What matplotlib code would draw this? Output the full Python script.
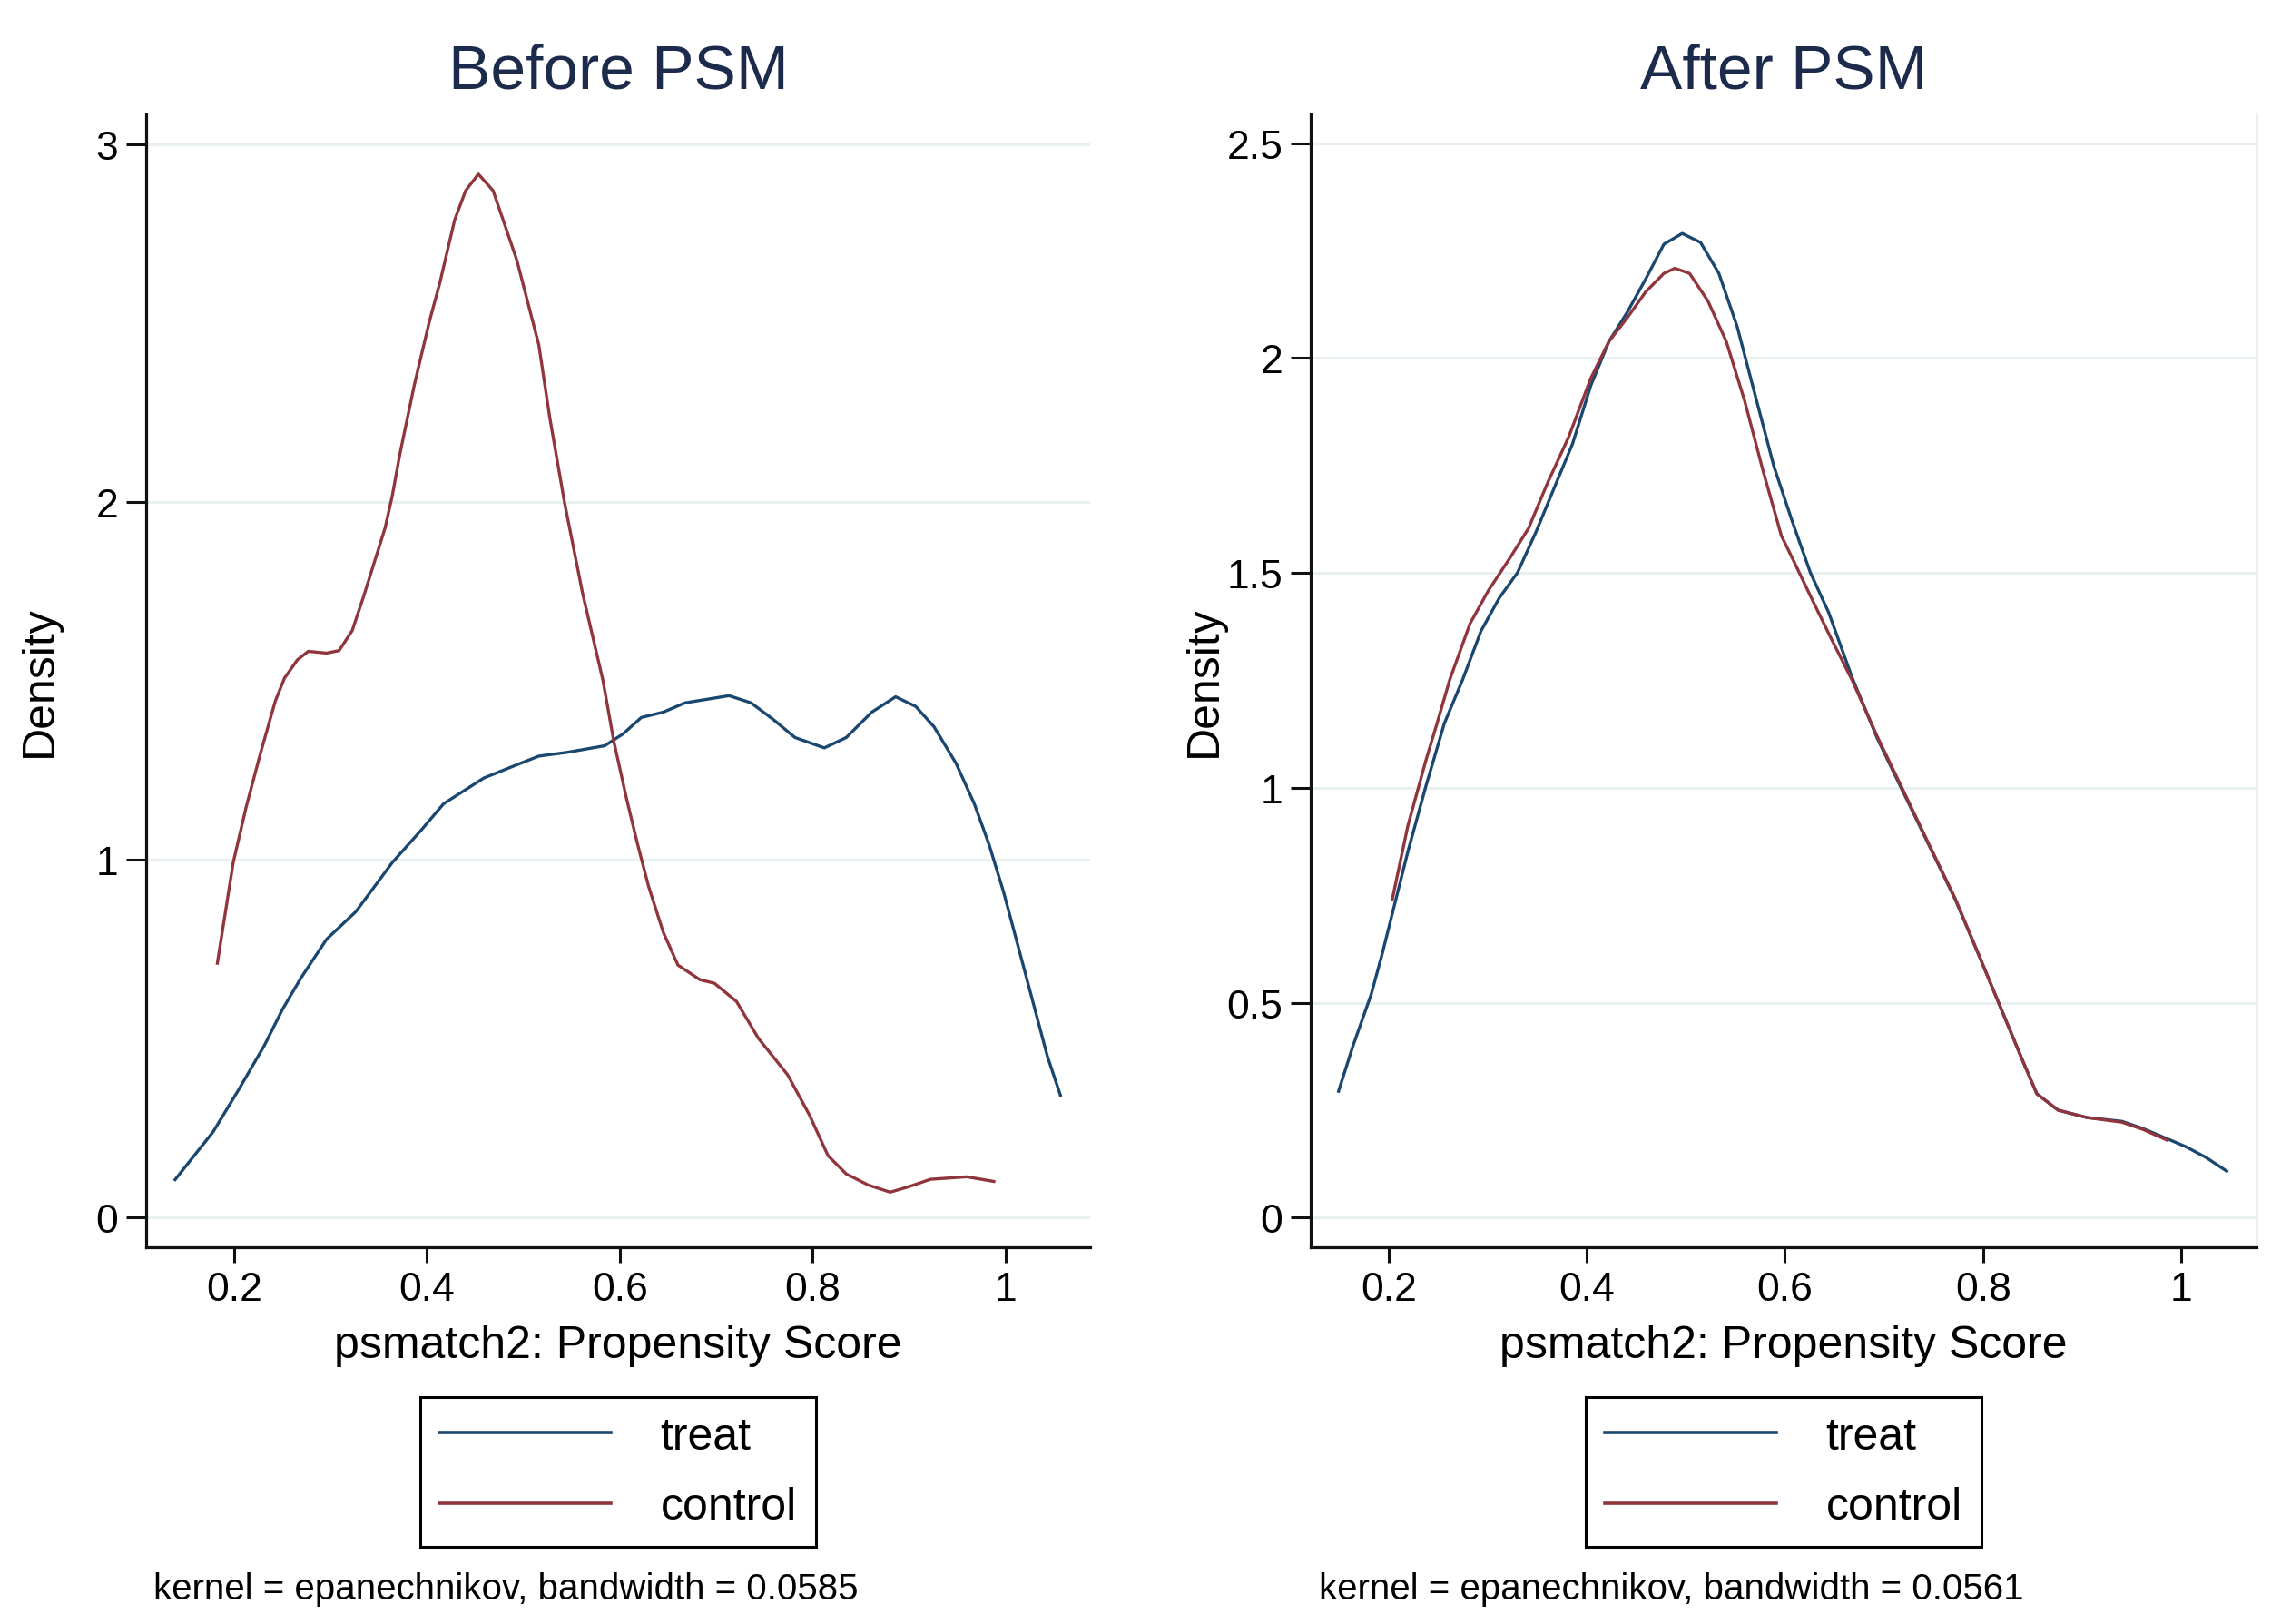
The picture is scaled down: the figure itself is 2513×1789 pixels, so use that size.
import matplotlib
matplotlib.use("Agg")
import matplotlib.pyplot as plt

plt.rcParams['font.family'] = ['Liberation Sans', 'DejaVu Sans']

# ---------------- data ----------------
before_treat_x = [0.139, 0.1785, 0.205, 0.2315, 0.2505, 0.2695, 0.296, 0.3263, 0.3643, 0.3947,
                  0.4174, 0.4592, 0.4971, 0.516, 0.5464, 0.5843, 0.6033, 0.6223, 0.645, 0.6677,
                  0.7133, 0.736, 0.7588, 0.7816, 0.812, 0.8347, 0.8612, 0.8859, 0.9067, 0.9257,
                  0.9485, 0.9674, 0.9826, 0.9977, 1.013, 1.0281, 1.0433, 1.0567]
before_treat_y = [0.105, 0.239, 0.357, 0.480, 0.582, 0.669, 0.777, 0.854, 0.992, 1.084,
                  1.156, 1.228, 1.269, 1.289, 1.300, 1.318, 1.351, 1.397, 1.412, 1.438,
                  1.458, 1.438, 1.392, 1.341, 1.312, 1.341, 1.412, 1.455, 1.428, 1.371,
                  1.269, 1.156, 1.043, 0.910, 0.756, 0.603, 0.449, 0.341]

before_control_x = [0.1828, 0.1993, 0.2126, 0.2278, 0.2429, 0.2524, 0.2657, 0.277, 0.296, 0.309,
                    0.3226, 0.334, 0.3567, 0.3643, 0.3719, 0.387, 0.4023, 0.4136, 0.4288, 0.4402,
                    0.4534, 0.4686, 0.4933, 0.516, 0.5274, 0.5426, 0.5615, 0.5824, 0.5938, 0.607,
                    0.6184, 0.6298, 0.645, 0.6602, 0.683, 0.6981, 0.721, 0.7437, 0.774, 0.7967,
                    0.8158, 0.8347, 0.8575, 0.8802, 0.8992, 0.922, 0.9598, 0.9877]
before_control_y = [0.710, 0.992, 1.146, 1.300, 1.443, 1.507, 1.558, 1.582, 1.577, 1.584,
                    1.640, 1.732, 1.927, 2.019, 2.132, 2.327, 2.501, 2.614, 2.788, 2.870,
                    2.916, 2.870, 2.675, 2.439, 2.235, 1.999, 1.743, 1.502, 1.330, 1.170,
                    1.043, 0.925, 0.797, 0.705, 0.664, 0.654, 0.603, 0.500, 0.398, 0.285,
                    0.172, 0.121, 0.090, 0.070, 0.085, 0.106, 0.113, 0.100]

after_treat_x = [0.1495, 0.164, 0.1824, 0.1935, 0.2046, 0.2194, 0.2378, 0.2563, 0.2748, 0.2933,
                 0.3118, 0.3302, 0.3487, 0.3672, 0.3856, 0.4041, 0.4225, 0.441, 0.4595, 0.4779,
                 0.4964, 0.5149, 0.5334, 0.5519, 0.5703, 0.5888, 0.6073, 0.6257, 0.6442, 0.668,
                 0.6931, 0.7182, 0.7468, 0.772, 0.797, 0.8184, 0.84, 0.8543, 0.8758, 0.9045,
                 0.9402, 0.9617, 0.9833, 1.0047, 1.025, 1.046]
after_treat_y = [0.294, 0.399, 0.519, 0.613, 0.715, 0.851, 1.005, 1.150, 1.252, 1.365,
                 1.442, 1.501, 1.595, 1.698, 1.800, 1.936, 2.039, 2.107, 2.184, 2.265,
                 2.290, 2.269, 2.197, 2.073, 1.911, 1.749, 1.621, 1.501, 1.408, 1.256,
                 1.116, 0.996, 0.860, 0.740, 0.604, 0.485, 0.365, 0.288, 0.250, 0.233,
                 0.224, 0.207, 0.186, 0.165, 0.140, 0.108]

after_control_x = [0.2037, 0.2194, 0.2378, 0.2489, 0.2618, 0.2822, 0.3007, 0.3228, 0.3413, 0.3598,
                   0.3819, 0.4041, 0.4225, 0.441, 0.4595, 0.4779, 0.489, 0.5038, 0.5223, 0.5408,
                   0.5592, 0.5777, 0.5964, 0.6072, 0.6286, 0.6466, 0.668, 0.6931, 0.7182, 0.7468,
                   0.772, 0.797, 0.8184, 0.84, 0.8543, 0.8758, 0.9045, 0.9402, 0.9617, 0.986]
after_control_y = [0.740, 0.911, 1.065, 1.150, 1.252, 1.382, 1.459, 1.536, 1.604, 1.706,
                   1.817, 1.953, 2.039, 2.094, 2.154, 2.197, 2.209, 2.197, 2.133, 2.039,
                   1.902, 1.740, 1.587, 1.536, 1.433, 1.348, 1.250, 1.120, 1.000, 0.862,
                   0.742, 0.604, 0.485, 0.365, 0.288, 0.250, 0.233, 0.222, 0.205, 0.180]

series_labels = ["treat", "control"]
titles = ["Before PSM", "After PSM"]
x_ticks = [0.2, 0.4, 0.6, 0.8, 1.0]
x_ticklabels = ["0.2", "0.4", "0.6", "0.8", "1"]
before_yticks = [0, 1, 2, 3]
before_yticklabels = ["0", "1", "2", "3"]
after_yticks = [0, 0.5, 1, 1.5, 2, 2.5]
after_yticklabels = ["0", "0.5", "1", "1.5", "2", "2.5"]
x_label = "psmatch2: Propensity Score"
y_label = "Density"
notes = ["kernel = epanechnikov, bandwidth = 0.0585",
         "kernel = epanechnikov, bandwidth = 0.0561"]

# ---------------- style ----------------
NAVY = "#1a476f"
MAROON = "#90353b"
TITLE_C = "#1c2b4b"
GRID_C = "#e8f0f0"

W, H = 2513, 1790
fig = plt.figure(figsize=(W / 100, H / 100), dpi=100)
fig.patch.set_facecolor("white")


def rect(l, r, t, b):
    return [l / W, 1 - b / H, (r - l) / W, (b - t) / H]


ax1 = fig.add_axes(rect(161, 1201, 127, 1375))
ax2 = fig.add_axes(rect(1444, 2486, 127, 1375))

panels = [
    dict(ax=ax1, title=titles[0], xlim=(0.109, 1.0875), ylim=(-0.084, 3.083),
         yticks=before_yticks, yticklabels=before_yticklabels,
         tx=before_treat_x, ty=before_treat_y, cx=before_control_x, cy=before_control_y,
         note=notes[0], note_x=169, right_border=False),
    dict(ax=ax2, title=titles[1], xlim=(0.1214, 1.076), ylim=(-0.069, 2.567),
         yticks=after_yticks, yticklabels=after_yticklabels,
         tx=after_treat_x, ty=after_treat_y, cx=after_control_x, cy=after_control_y,
         note=notes[1], note_x=1453, right_border=True),
]

for p in panels:
    ax = p["ax"]
    lt, = ax.plot(p["tx"], p["ty"], color=NAVY, lw=2.4, solid_joinstyle="round")
    lc, = ax.plot(p["cx"], p["cy"], color=MAROON, lw=2.4, solid_joinstyle="round")
    ax.set_xlim(*p["xlim"])
    ax.set_ylim(*p["ylim"])
    ax.set_xticks(x_ticks)
    ax.set_xticklabels(x_ticklabels)
    ax.set_yticks(p["yticks"])
    ax.set_yticklabels(p["yticklabels"])
    ax.grid(axis="y", color=GRID_C, lw=2.2)
    ax.set_axisbelow(True)
    ax.spines["top"].set_visible(False)
    if p["right_border"]:
        ax.spines["right"].set_color(GRID_C)
        ax.spines["right"].set_linewidth(2.0)
    else:
        ax.spines["right"].set_visible(False)
    for s in ("left", "bottom"):
        ax.spines[s].set_color("#111111")
        ax.spines[s].set_linewidth(2.3)
    ax.tick_params(axis="x", length=12, width=2.2, color="#111111", pad=7,
                   labelsize=32, direction="out")
    ax.tick_params(axis="y", length=16, width=2.2, color="#111111", pad=6,
                   labelsize=32, direction="out")

    ax.set_xlabel(x_label, fontsize=36)
    ax.xaxis.set_label_coords(0.5, -0.097)
    ax.xaxis.label.set_va("baseline")
    ax.set_ylabel(y_label, fontsize=36)
    ax.yaxis.set_label_coords(-0.1125, 0.5)
    ax.yaxis.label.set_va("center")

    bb = ax.get_position()
    fig.text((bb.x0 + bb.x1) / 2, 1 - 98 / H, p["title"], ha="center", va="baseline",
             fontsize=50, color=TITLE_C)

    leg = ax.legend([lt, lc], series_labels, loc="upper center",
                    bbox_to_anchor=(0.5, -0.1322), borderaxespad=0,
                    fontsize=36, frameon=True, fancybox=False, edgecolor="black",
                    framealpha=1, borderpad=0.42, labelspacing=0.63,
                    handlelength=3.78, handletextpad=1.08)
    leg.get_frame().set_linewidth(2.2)
    for ln in leg.get_lines():
        ln.set_linewidth(2.6)

    fig.text(p["note_x"] / W, 1 - 1762.5 / H, p["note"], ha="left", va="baseline",
             fontsize=29)

fig.savefig("out.png", dpi=100, facecolor="white")
